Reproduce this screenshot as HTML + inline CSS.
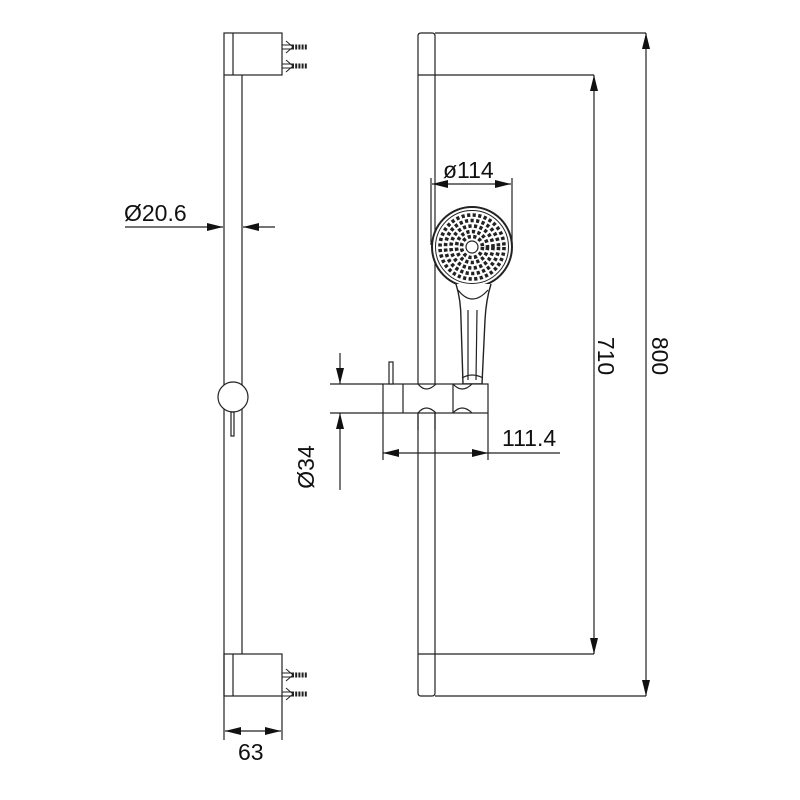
<!DOCTYPE html>
<html><head><style>html,body{margin:0;padding:0;background:#fff}svg{display:block}</style></head>
<body>
<svg width="800" height="800" viewBox="0 0 800 800" xmlns="http://www.w3.org/2000/svg" font-family="Liberation Sans, sans-serif">
<defs>
<marker id="a" viewBox="0 0 16 8" refX="16" refY="4" markerWidth="16" markerHeight="8" markerUnits="userSpaceOnUse" orient="auto"><path d="M0,0L16,4L0,8Z" fill="#111"/></marker>
</defs>
<g stroke="#222" stroke-width="1.2" fill="none">
<!-- LEFT VIEW -->
<path d="M224,75V696M242,75V654"/>
<rect x="224" y="33" width="58" height="42"/>
<path d="M233,33V75"/>
<rect x="224" y="654" width="58" height="42"/>
<path d="M233,654V696"/>
<circle cx="233" cy="397" r="15" fill="#fff"/>
<rect x="231" y="412" width="3" height="24"/>
<g stroke-width="1">
<path d="M282,45H292M282,49H292M282,64H292M282,68H292M282,673H292M282,677H292M282,692H292M282,696H292"/>
</g>
<g stroke-width="5" stroke-dasharray="2 1.2">
<path d="M292,47H308M292,66H308M292,675H308M292,694H308"/>
</g>
<path d="M286,41L293,47L286,53M286,60L293,66L286,72M286,669L293,675L286,681M286,688L293,694L286,700" stroke-width="1"/>
<!-- Ø20.6 -->
<path d="M125,227H223" marker-end="url(#a)"/>
<path d="M275,227H243" marker-end="url(#a)"/>
<!-- 63 -->
<path d="M224,696V740M282,696V740"/>
<path d="M253,731H225" marker-end="url(#a)"/>
<path d="M253,731H281" marker-end="url(#a)"/>

<!-- RIGHT VIEW -->
<path d="M418,36V693M435,36V693"/>
<path d="M418,36Q418,33 421,33H432Q435,33 435,36M418,693Q418,696 421,696H432Q435,696 435,693"/>
<path d="M418,75H594M418,654H594M435,33H646M435,696H646"/>
<path d="M594,365V75" marker-end="url(#a)"/>
<path d="M594,365V654" marker-end="url(#a)"/>
<path d="M646,365V33" marker-end="url(#a)"/>
<path d="M646,365V696" marker-end="url(#a)"/>
<!-- Ø114 -->
<path d="M431,178V245M512,178V245"/>
<path d="M471,184H432" marker-end="url(#a)"/>
<path d="M471,184H511" marker-end="url(#a)"/>
<!-- head -->
<circle cx="472" cy="247" r="40" fill="#fff" stroke-width="2"/>
<circle cx="472" cy="247" r="36.5" stroke-width="1"/>
<g stroke-width="1" stroke="#222">
<g stroke-width="3.6" stroke-dasharray="3.2 2.4">
<circle cx="472" cy="247" r="32"/>
<circle cx="472" cy="247" r="26.5"/>
<circle cx="472" cy="247" r="21"/>
<circle cx="472" cy="247" r="15.5"/>
<circle cx="472" cy="247" r="10.5"/>
</g>
</g>
<circle cx="472" cy="247" r="6" stroke-width="1.2" fill="#fff"/>
<!-- handle -->
<path d="M456,284Q461,300 461,320L463,384H482L485,320Q486,300 491,284" fill="#fff" stroke-width="1.4"/>
<path d="M458,290Q472,308 488,290"/>
<path d="M468,310L468,380M477,310L476,380"/>
<path d="M462,378Q472,372 483,378"/>
<!-- holder -->
<rect x="383" y="384" width="105" height="29" fill="#fff"/>
<path d="M403,384V413M453,384V413"/>
<path d="M418,384Q426,394 436,384M418,413Q426,403 436,413"/>
<path d="M453,384Q462,394 472,384M453,413Q462,403 472,413"/>
<path d="M418,413V430M435,413V430"/>
<rect x="389" y="362" width="4" height="22" fill="#fff"/>
<!-- Ø34 -->
<path d="M330,384H383M330,413H383"/>
<path d="M340,353V384" marker-end="url(#a)"/>
<path d="M340,490V413" marker-end="url(#a)"/>
<!-- 111.4 -->
<path d="M383,413V460M488,413V460"/>
<path d="M436,453H383" marker-end="url(#a)"/>
<path d="M436,453H488" marker-end="url(#a)"/>
<path d="M488,453H560"/>
</g>
<g fill="#111" font-size="23">
<text x="124" y="221">Ø20.6</text>
<text x="238" y="760">63</text>
<text x="443" y="178">ø114</text>
<text x="502" y="446">111.4</text>
<text transform="translate(314,467) rotate(-90)" text-anchor="middle">Ø34</text>
<text transform="translate(598,356) rotate(90)" text-anchor="middle">710</text>
<text transform="translate(652,356) rotate(90)" text-anchor="middle">800</text>
</g>
</svg>
</body></html>
